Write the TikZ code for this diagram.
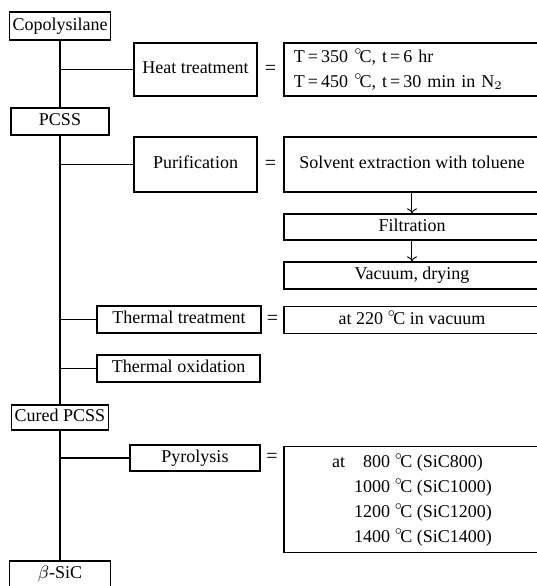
\documentclass[tikz,border=0pt]{standalone}
\usepackage{fontspec}
\setmainfont{Liberation Serif}
\usetikzlibrary{arrows.meta, positioning}
\newcommand{\degC}{\ensuremath{{}^{\circ}\mkern-3mu}C}

\begin{document}
\begin{tikzpicture}[
  x=0.5pt, y=-0.5pt,
  frame/.style={draw, line width=0.6pt, align=center, font=\fontsize{9}{12.5}\selectfont, inner sep=1.5pt},
  box/.style={frame, text height=6.3pt, text depth=2pt},
  cond/.style={box, minimum width=128pt},
  eq/.style={font=\fontsize{10}{12}\selectfont, inner sep=0pt},
  link/.style={line width=0.6pt},
  tip/.style={line width=0.5pt, -{To[length=2.5pt, width=5pt]}}
]
\clip (0,0) rectangle (537,586);
% main line of the process
\node[box, minimum width=49pt, minimum height=14pt] (copo) at (60,26) {Copolysilane};
\node[box, minimum width=49pt, minimum height=13.5pt] (pcss) at (60,121.5) {PCSS};
\node[box, minimum width=46pt, minimum height=12.5pt] (cured) at (60,417.5) {Cured PCSS};
\node[box, minimum width=50.5pt, minimum height=13pt] (bsic) at (60,574) {$\beta$-SiC};

% treatment steps
\node[box, minimum width=61.5pt, minimum height=26.5pt] (heat) at (195.5,69.5) {Heat treatment};
\node[box, minimum width=61.5pt, minimum height=27.5pt] (puri) at (195.5,164.5) {Purification};
\node[box, minimum width=82pt, minimum height=13.5pt] (therm) at (179,319.5) {Thermal treatment};
\node[box, minimum width=81.5pt, minimum height=13.5pt] (oxid) at (178.5,368.5) {Thermal oxidation};
\node[box, minimum width=65pt, minimum height=13pt] (pyro) at (195,458) {Pyrolysis};

% conditions
\node[frame, minimum width=128pt, minimum height=26.5pt, text width=118pt, inner xsep=5pt, align=left] (heatc) at (412,69.5)
  {T\,=\,350~\degC, t\,=\,6 hr\\T\,=\,450~\degC, t\,=\,30 min in N$_2$};
\node[cond, minimum height=27.5pt] (solv) at (412,164.5) {Solvent extraction with toluene};
\node[cond, minimum height=13pt] (filt) at (412,227) {Filtration};
\node[cond, minimum height=13.5pt] (vac) at (412,275.5) {Vacuum, drying};
\node[cond, minimum height=13.5pt] (t220) at (412,320) {at 220 \degC{} in vacuum};
\node[frame, minimum width=128pt, minimum height=52.5pt] (pyroc) at (412,499.5) {%
  \begin{tabular}{@{}l@{\ \ }r@{~}l@{}}
  at & 800 & \degC{} (SiC800)\\
     & 1000 & \degC{} (SiC1000)\\
     & 1200 & \degC{} (SiC1200)\\
     & 1400 & \degC{} (SiC1400)
  \end{tabular}};

\path (heat.east) -- node[eq] (eqheat) {=} (heatc.west);
\path (puri.east) -- node[eq] (eqpuri) {=} (solv.west);
\path (therm.east) -- node[eq] (eqtherm) {=} (t220.west);
\path (pyro.east) -- node[eq] (eqpyro) {=} (pyro.east -| pyroc.west);

% stem and branches
\draw[link] (copo) -- (pcss);
\draw[link] (pcss) -- (cured);
\draw[link] (cured) -- (bsic);
\foreach \s in {heat, puri, therm, oxid}
  \draw[link] (\s.west) -- (\s.west -| copo.south);
\draw[link] (pyro.west) -- (pyro.west -| cured.south);

\draw[tip] (solv) -- (filt);
\draw[tip] (filt) -- (vac);
\end{tikzpicture}
\end{document}
